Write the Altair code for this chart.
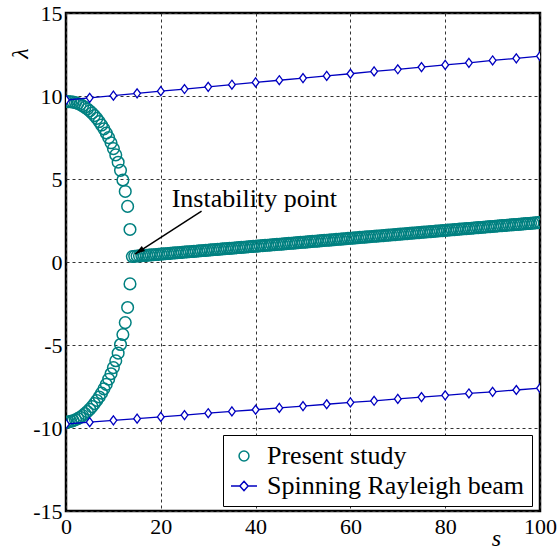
import altair as alt
import pandas as pd

# ---- data ----
s_branch = [0.0, 0.5, 1.0, 1.5, 2.0, 2.5, 3.0, 3.5, 4.0, 4.5,
            5.0, 5.5, 6.0, 6.5, 7.0, 7.5, 8.0, 8.5, 9.0, 9.5,
            10.0, 10.5, 11.0, 11.5, 12.0, 12.5, 13.0, 13.5]
lam_upper = [9.65, 9.66, 9.65, 9.63, 9.60, 9.55, 9.49, 9.41, 9.32, 9.22,
             9.10, 8.97, 8.82, 8.65, 8.46, 8.25, 8.02, 7.77, 7.49, 7.18,
             6.83, 6.45, 6.01, 5.52, 4.94, 4.25, 3.35, 1.96]
lam_lower = [-9.65, -9.63, -9.60, -9.56, -9.50, -9.43, -9.35, -9.25, -9.13, -9.01,
             -8.87, -8.71, -8.53, -8.34, -8.13, -7.90, -7.64, -7.37, -7.06, -6.73,
             -6.36, -5.95, -5.49, -4.97, -4.37, -3.65, -2.74, -1.32]

s_band = [14.0, 14.5, 15.0, 15.5, 16.0, 16.5, 17.0, 17.5, 18.0, 18.5,
          19.0, 19.5, 20.0, 20.5, 21.0, 21.5, 22.0, 22.5, 23.0, 23.5,
          24.0, 24.5, 25.0, 25.5, 26.0, 26.5, 27.0, 27.5, 28.0, 28.5,
          29.0, 29.5, 30.0, 30.5, 31.0, 31.5, 32.0, 32.5, 33.0, 33.5,
          34.0, 34.5, 35.0, 35.5, 36.0, 36.5, 37.0, 37.5, 38.0, 38.5,
          39.0, 39.5, 40.0, 40.5, 41.0, 41.5, 42.0, 42.5, 43.0, 43.5,
          44.0, 44.5, 45.0, 45.5, 46.0, 46.5, 47.0, 47.5, 48.0, 48.5,
          49.0, 49.5, 50.0, 50.5, 51.0, 51.5, 52.0, 52.5, 53.0, 53.5,
          54.0, 54.5, 55.0, 55.5, 56.0, 56.5, 57.0, 57.5, 58.0, 58.5,
          59.0, 59.5, 60.0, 60.5, 61.0, 61.5, 62.0, 62.5, 63.0, 63.5,
          64.0, 64.5, 65.0, 65.5, 66.0, 66.5, 67.0, 67.5, 68.0, 68.5,
          69.0, 69.5, 70.0, 70.5, 71.0, 71.5, 72.0, 72.5, 73.0, 73.5,
          74.0, 74.5, 75.0, 75.5, 76.0, 76.5, 77.0, 77.5, 78.0, 78.5,
          79.0, 79.5, 80.0, 80.5, 81.0, 81.5, 82.0, 82.5, 83.0, 83.5,
          84.0, 84.5, 85.0, 85.5, 86.0, 86.5, 87.0, 87.5, 88.0, 88.5,
          89.0, 89.5, 90.0, 90.5, 91.0, 91.5, 92.0, 92.5, 93.0, 93.5,
          94.0, 94.5, 95.0, 95.5, 96.0, 96.5, 97.0, 97.5, 98.0, 98.5,
          99.0, 99.5, 100.0]
lam_band = [0.33, 0.35, 0.36, 0.37, 0.38, 0.39, 0.40, 0.42, 0.43, 0.44,
            0.45, 0.46, 0.48, 0.49, 0.50, 0.51, 0.52, 0.54, 0.55, 0.56,
            0.57, 0.58, 0.60, 0.61, 0.62, 0.63, 0.64, 0.65, 0.67, 0.68,
            0.69, 0.70, 0.71, 0.73, 0.74, 0.75, 0.76, 0.77, 0.79, 0.80,
            0.81, 0.82, 0.83, 0.84, 0.86, 0.87, 0.88, 0.89, 0.90, 0.92,
            0.93, 0.94, 0.95, 0.96, 0.98, 0.99, 1.00, 1.01, 1.02, 1.04,
            1.05, 1.06, 1.07, 1.08, 1.09, 1.11, 1.12, 1.13, 1.14, 1.15,
            1.17, 1.18, 1.19, 1.20, 1.21, 1.23, 1.24, 1.25, 1.26, 1.27,
            1.29, 1.30, 1.31, 1.32, 1.33, 1.34, 1.36, 1.37, 1.38, 1.39,
            1.40, 1.42, 1.43, 1.44, 1.45, 1.46, 1.48, 1.49, 1.50, 1.51,
            1.52, 1.54, 1.55, 1.56, 1.57, 1.58, 1.59, 1.61, 1.62, 1.63,
            1.64, 1.65, 1.67, 1.68, 1.69, 1.70, 1.71, 1.73, 1.74, 1.75,
            1.76, 1.77, 1.79, 1.80, 1.81, 1.82, 1.83, 1.84, 1.86, 1.87,
            1.88, 1.89, 1.90, 1.92, 1.93, 1.94, 1.95, 1.96, 1.98, 1.99,
            2.00, 2.01, 2.02, 2.03, 2.05, 2.06, 2.07, 2.08, 2.09, 2.11,
            2.12, 2.13, 2.14, 2.15, 2.17, 2.18, 2.19, 2.20, 2.21, 2.23,
            2.24, 2.25, 2.26, 2.27, 2.28, 2.30, 2.31, 2.32, 2.33, 2.34,
            2.36, 2.37, 2.38]

s_ray = [0, 5, 10, 15, 20, 25, 30, 35, 40, 45, 50,
         55, 60, 65, 70, 75, 80, 85, 90, 95, 100]
ray_upper = [9.76, 9.89, 10.02, 10.16, 10.29, 10.42, 10.55, 10.68, 10.82, 10.95, 11.08,
             11.21, 11.34, 11.48, 11.61, 11.74, 11.87, 12.00, 12.14, 12.27, 12.40]
ray_lower = [-9.76, -9.65, -9.54, -9.44, -9.33, -9.22, -9.11, -9.00, -8.90, -8.79, -8.68,
             -8.57, -8.46, -8.36, -8.25, -8.14, -8.03, -7.92, -7.82, -7.71, -7.60]

x_ticks = [0, 20, 40, 60, 80, 100]
y_ticks = [-15, -10, -5, 0, 5, 10, 15]
legend_labels = ["Present study", "Spinning Rayleigh beam"]

ann_text = ["Instability point"]
ann_s = [22.3]
ann_lam = [3.33]
arrow_s = [28.6]
arrow_lam = [3.07]
arrow_tip_s = [14.56]
arrow_tip_lam = [0.48]

# ---- styling ----
TEAL = "#008080"
BLUE = "#0000c0"
FONT = "Liberation Serif, DejaVu Serif, serif"
DIAMOND = "M0,-1L0.75,0L0,1L-0.75,0Z"
LEG_CIRCLE = "M0.38,0A0.38,0.38 0 1,1 -0.38,0A0.38,0.38 0 1,1 0.38,0Z"
LEG_DIAMOND_LINE = "M-1,0L-0.32,0M0.32,0L1,0M0,-0.36L0.32,0L0,0.36L-0.32,0Z"
ARROW_HEAD = "M0,0L-0.3,1L0.3,1Z"

pres = pd.DataFrame({
    "s": s_branch + s_branch + s_band,
    "lam": lam_upper + lam_lower + lam_band,
})
ray = pd.DataFrame({
    "s": s_ray + s_ray,
    "lam": ray_upper + ray_lower,
    "branch": ["up"] * len(s_ray) + ["low"] * len(s_ray),
})
ann = pd.DataFrame({"text": ann_text, "s": ann_s, "lam": ann_lam})
arrow = pd.DataFrame({"s": arrow_s, "lam": arrow_lam,
                      "s2": arrow_tip_s, "lam2": arrow_tip_lam})
leg = pd.DataFrame({"series": legend_labels, "s": [0, 0], "lam": [0, 0]})

xs = alt.Scale(domain=[0, 100], nice=False, zero=False)
ys = alt.Scale(domain=[-15, 15], nice=False, zero=False)

xaxis = alt.Axis(values=x_ticks, grid=True, gridDash=[3, 3], gridColor="#333",
                 gridWidth=1, ticks=False, domain=False, labelFont=FONT,
                 labelFontSize=22, labelColor="black", labelPadding=5,
                 labelFlush=False, labelOverlap=False,
                 title="s", titleFont=FONT, titleFontStyle="italic",
                 titleFontWeight="normal", titleFontSize=24, titleColor="black",
                 titleX=430, titleY=34, titleAlign="center",
                 titleBaseline="alphabetic")
yaxis = alt.Axis(values=y_ticks, grid=True, gridDash=[3, 3], gridColor="#333",
                 gridWidth=1, ticks=False, domain=False, labelFont=FONT,
                 labelFontSize=22, labelColor="black", labelPadding=4,
                 labelFlush=False, labelOverlap=False,
                 labelExpr="'' + datum.value",
                 title="λ", titleFont=FONT, titleFontStyle="italic",
                 titleFontWeight="normal", titleFontSize=24, titleColor="black",
                 titleAngle=270, titleX=-46, titleY=40, titleAlign="center",
                 titleBaseline="middle")

X = alt.X("s:Q", scale=xs, axis=xaxis)
Y = alt.Y("lam:Q", scale=ys, axis=yaxis)

present = alt.Chart(pres).mark_point(
    filled=False, stroke=TEAL, strokeWidth=1.5, size=135, opacity=1, clip=True
).encode(x=X, y=Y)

ray_line = alt.Chart(ray).mark_line(
    color=BLUE, strokeWidth=1.3, clip=True
).encode(x=X, y=Y, detail="branch:N")

ray_pts = alt.Chart(ray).mark_point(
    shape=DIAMOND, size=81, filled=True, fill="white", stroke=BLUE,
    strokeWidth=1.3, opacity=1, clip=True
).encode(x=X, y=Y)

arrow_line = alt.Chart(arrow).mark_rule(color="black", strokeWidth=1.5).encode(
    x=X, y=Y, x2="s2:Q", y2="lam2:Q"
)
arrow_head = alt.Chart(arrow).mark_point(
    shape=ARROW_HEAD, size=400, filled=True, color="black", opacity=1, angle=237
).encode(x=alt.X("s2:Q", scale=xs, axis=xaxis), y=alt.Y("lam2:Q", scale=ys, axis=yaxis))

label = alt.Chart(ann).mark_text(
    align="left", baseline="alphabetic", font=FONT, fontSize=26, color="black"
).encode(x=X, y=Y, text="text:N")

leg_def = alt.Legend(
    title=None, orient="none", legendX=157, legendY=422, padding=7,
    strokeColor="black", fillColor="white", cornerRadius=0,
    labelFont=FONT, labelFontSize=26, labelColor="black", labelLimit=400,
    symbolSize=676, symbolStrokeWidth=1.5, rowPadding=3, labelOffset=9,
)
legend_layer = alt.Chart(leg).transform_filter("false").mark_point(
    filled=False, strokeWidth=1.5, opacity=1
).encode(
    x=X, y=Y,
    color=alt.Color("series:N", scale=alt.Scale(domain=legend_labels, range=[TEAL, BLUE]),
                    legend=leg_def),
    shape=alt.Shape("series:N", scale=alt.Scale(domain=legend_labels,
                                                 range=[LEG_CIRCLE, LEG_DIAMOND_LINE]),
                    legend=leg_def),
)

chart = alt.layer(
    present, ray_line, ray_pts, arrow_line, arrow_head, label, legend_layer
).properties(
    width=474, height=498,
    padding={"left": 66, "top": 13, "right": 17, "bottom": 38},
    autosize=alt.AutoSizeParams(type="none"),
    background="white",
).configure_view(stroke="black", strokeWidth=2.5)

chart.save("out.html", embed_options={"renderer": "svg", "actions": False})
